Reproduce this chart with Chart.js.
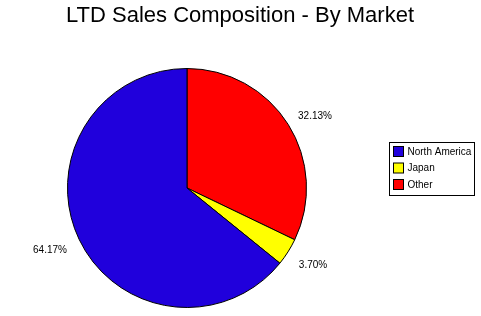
<!DOCTYPE html>
<html>
<head>
<meta charset="utf-8">
<script src="https://cdn.jsdelivr.net/npm/chart.js@4/dist/chart.umd.min.js"></script>
<style>
    html, body { margin: 0; padding: 0; background: #fff; }
    #wrap { width: 481px; height: 316px; position: relative; }
</style>
</head>
<body>
<div id="wrap"><canvas id="pie"></canvas></div>
<script>
// legend order as in the reference
const markets = ['North America', 'Japan', 'Other'];
const shares = [64.17, 3.70, 32.13];
const sliceColors = ['#2000dc', '#ffff00', '#ff0000'];
const shareLabels = ['64.17%', '3.70%', '32.13%'];

// the reference runs counter-clockwise, so feed the slices reversed
const order = [2, 1, 0];

// where each percentage label sits, relative to pie centre (dx, dy)
const labelOffsets = [[-137, 62], [126, 77], [128, -72]];

const piePlugin = {
    id: 'piePlugin',
    afterDraw(chart) {
        const ctx = chart.ctx;
        const meta = chart.getDatasetMeta(0);
        const arc = meta.data[0];
        const cx = arc.x, cy = arc.y;

        ctx.save();
        // title
        ctx.fillStyle = '#000';
        ctx.font = '22px "Liberation Sans", Arial, sans-serif';
        ctx.textAlign = 'center';
        ctx.textBaseline = 'alphabetic';
        ctx.fillText('LTD Sales Composition - By Market', 240, 22);

        // slice percentages
        ctx.font = '10px "Liberation Sans", Arial, sans-serif';
        ctx.textAlign = 'center';
        ctx.textBaseline = 'middle';
        shareLabels.forEach((txt, i) => {
            const [dx, dy] = labelOffsets[i];
            ctx.fillText(txt, cx + dx, cy + dy);
        });

        // legend box
        const lx = 389.5, ly = 142.5, lw = 85, lh = 53;
        ctx.strokeStyle = '#000';
        ctx.lineWidth = 1;
        ctx.strokeRect(lx, ly, lw, lh);
        ctx.textAlign = 'left';
        markets.forEach((name, i) => {
            const y = ly + 4 + i * 16.5;
            ctx.fillStyle = sliceColors[i];
            ctx.fillRect(lx + 4, y, 10, 10);
            ctx.strokeRect(lx + 4, y, 10, 10);
            ctx.fillStyle = '#000';
            ctx.fillText(name, lx + 18, y + 5.5);
        });
        ctx.restore();
    }
};

new Chart(document.getElementById('pie'), {
    type: 'pie',
    data: {
        labels: order.map(i => markets[i]),
        datasets: [{
            data: order.map(i => shares[i]),
            backgroundColor: order.map(i => sliceColors[i]),
            borderColor: '#000',
            borderWidth: 1
        }]
    },
    options: {
        responsive: true,
        maintainAspectRatio: false,
        animation: false,
        layout: {
            padding: { left: 67, right: 174, top: 67, bottom: 7 }
        },
        plugins: {
            legend: { display: false },
            title: { display: false },
            tooltip: { enabled: false }
        }
    },
    plugins: [piePlugin]
});
</script>
</body>
</html>
